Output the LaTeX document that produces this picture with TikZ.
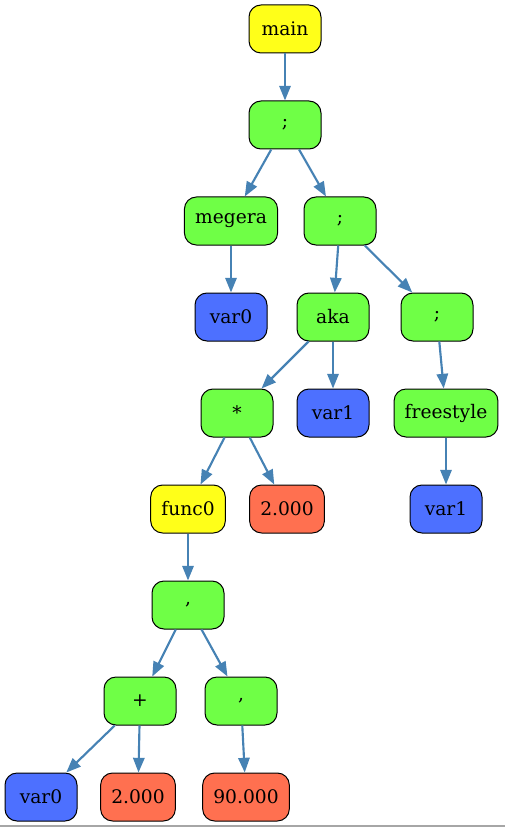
\documentclass[tikz,border=0pt]{standalone}
\usepackage{fontspec}
\setmainfont{DejaVu Serif}
\usetikzlibrary{arrows.meta}
\definecolor{ngreen}{RGB}{111,255,70}
\definecolor{nyellow}{RGB}{255,255,25}
\definecolor{nblue}{RGB}{77,112,255}
\definecolor{nred}{RGB}{255,112,80}
\definecolor{edgec}{RGB}{70,130,180}
\begin{document}
\begin{tikzpicture}[x=0.75pt,y=-0.75pt,
  box/.style={draw=black,line width=0.75pt,rounded corners=9pt,minimum width=54pt,minimum height=36pt,inner xsep=8pt,font=\fontsize{14}{16}\selectfont},
  gbox/.style={box,fill=ngreen},
  ybox/.style={box,fill=nyellow},
  bbox/.style={box,fill=nblue},
  rbox/.style={box,fill=nred},
  edge/.style={draw=edgec,line width=1.6pt,-{Triangle[length=11pt,width=8.5pt]}}]
\useasboundingbox (0,0) rectangle (505,827);
\node[ybox] (main) at (285,29) {main};
\node[gbox] (s1) at (285,125) {;};
\node[gbox] (megera) at (231,221) {megera};
\node[gbox] (s2) at (340,221) {;};
\node[bbox] (v0a) at (231,317) {var0};
\node[gbox] (aka) at (333,317) {aka};
\node[gbox] (s3) at (437,317) {;};
\node[gbox] (star) at (237,413) {*};
\node[bbox] (v1a) at (333,413) {var1};
\node[gbox] (free) at (446,413) {freestyle};
\node[ybox] (func) at (188,509) {func0};
\node[rbox] (n2a) at (287,509) {2.000};
\node[bbox] (v1b) at (446,509) {var1};
\node[gbox] (c1) at (188,605) {,};
\node[gbox] (plus) at (140,701) {+};
\node[gbox] (c2) at (241,701) {,};
\node[bbox] (v0b) at (41,797) {var0};
\node[rbox] (n2b) at (138,797) {2.000};
\node[rbox] (n90) at (246,797) {90.000};
\draw[edge] (main) -- (s1);
\draw[edge] (s1) -- (megera);
\draw[edge] (s1) -- (s2);
\draw[edge] (megera) -- (v0a);
\draw[edge] (s2) -- (aka);
\draw[edge] (s2) -- (s3);
\draw[edge] (aka) -- (star);
\draw[edge] (aka) -- (v1a);
\draw[edge] (s3) -- (free);
\draw[edge] (star) -- (func);
\draw[edge] (star) -- (n2a);
\draw[edge] (free) -- (v1b);
\draw[edge] (func) -- (c1);
\draw[edge] (c1) -- (plus);
\draw[edge] (c1) -- (c2);
\draw[edge] (plus) -- (v0b);
\draw[edge] (plus) -- (n2b);
\draw[edge] (c2) -- (n90);
\coordinate (bl) at (0,826);
\coordinate (br) at (505,826);
\draw[color=black!35,line width=1pt] (bl) -- (br);
\end{tikzpicture}
\end{document}
